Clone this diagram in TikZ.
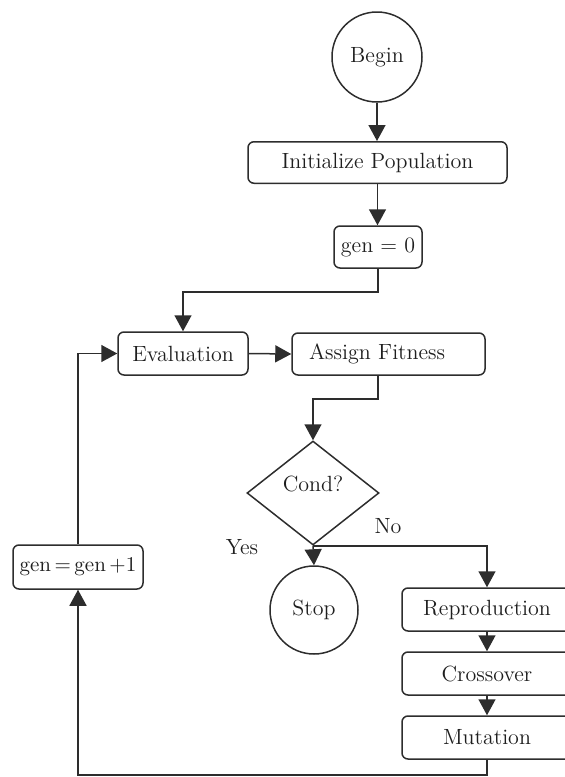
\documentclass[tikz,border=0pt]{standalone}
\usepackage{xcolor}
\definecolor{galine}{RGB}{45,45,45}
\definecolor{gatext}{RGB}{30,30,30}
\usepackage{tikz}
\usetikzlibrary{arrows.meta, positioning, shapes.geometric}

\begin{document}
\begin{tikzpicture}[x=0.5pt, y=-0.5pt,
    every node/.style={font=\fontsize{11}{13}\selectfont, text=gatext},
    gabox/.style={draw=galine, line width=0.75pt, rounded corners=3pt, inner sep=0pt},
    gacirc/.style={draw=galine, line width=0.75pt, circle, inner sep=0pt},
    gadiam/.style={draw=galine, line width=0.75pt, diamond, inner sep=0pt,
                   minimum width=66pt, minimum height=52pt},
    gaarr/.style={-{Triangle[length=8pt, width=8.5pt]}, galine, line width=0.75pt}]

% fixed frame, same as the reference
\useasboundingbox (0,0) rectangle (565,777);
\clip (0,0) rectangle (565,777);

% === Start and initialisation ===
\node[gacirc, minimum size=45pt] (begin) at (377,57) {Begin};
\node[gabox, minimum width=129.5pt, minimum height=20.75pt] (init) at (377.5,162.5) {Initialize Population};
\node[gabox, minimum width=44pt, minimum height=21pt] (gen0) at (378,247) {gen = 0};

% === Evaluation row ===
\node[gabox, minimum width=65pt, minimum height=21.5pt] (eval) at (183,353.5) {Evaluation};
\node[gabox, text width=79.5pt, inner xsep=8.5pt, align=left, minimum height=21pt] (fit) at (388.5,354) {Assign Fitness};

% === Decision ===
\node[gadiam] (cond) at (313,493) {};
\node at (313,484) {Cond?};
\node (yes) at (242,547) {Yes};
\node (no) at (388,526) {No};
\node[gacirc, minimum size=44pt] (stop) at (314,610) {Stop};

% === Genetic operators ===
\node[gabox, minimum width=85pt, minimum height=21.5pt] (repro) at (487,609.5) {Reproduction};
\node[gabox, minimum width=85pt, minimum height=21.5pt] (cross) at (487,673.5) {Crossover};
\node[gabox, minimum width=85pt, minimum height=21.5pt] (mut) at (487,737.5) {Mutation};

% generation counter
\node[gabox, minimum width=65pt, minimum height=22pt, font=\fontsize{10.5}{12}\selectfont] (inc) at (78,567) {gen\,=\,gen\,+1};

% === Connectors ===
\draw[gaarr] (begin) -- (begin |- init.north);
\draw[gaarr] (init) -- (init |- gen0.north);
\draw[gaarr] (gen0.south) -- ++(0,23) -| (eval.north);
\draw[gaarr] (eval.east) -- (fit.west);
\draw[gaarr] (fit.south -| gen0.south) -- ++(0,23) -| (cond.north);
\draw[gaarr] (cond.south) -- (stop.north);
\draw[gaarr] (cond.south) -| (repro.north);
\draw[gaarr] (repro.south) -- (cross.north);
\draw[gaarr] (cross.south) -- (mut.north);
\draw[gaarr] (mut.south) -- ++(0,15) -| (inc.south);
\draw[gaarr] (inc.north) |- (eval.west);

\end{tikzpicture}
\end{document}
